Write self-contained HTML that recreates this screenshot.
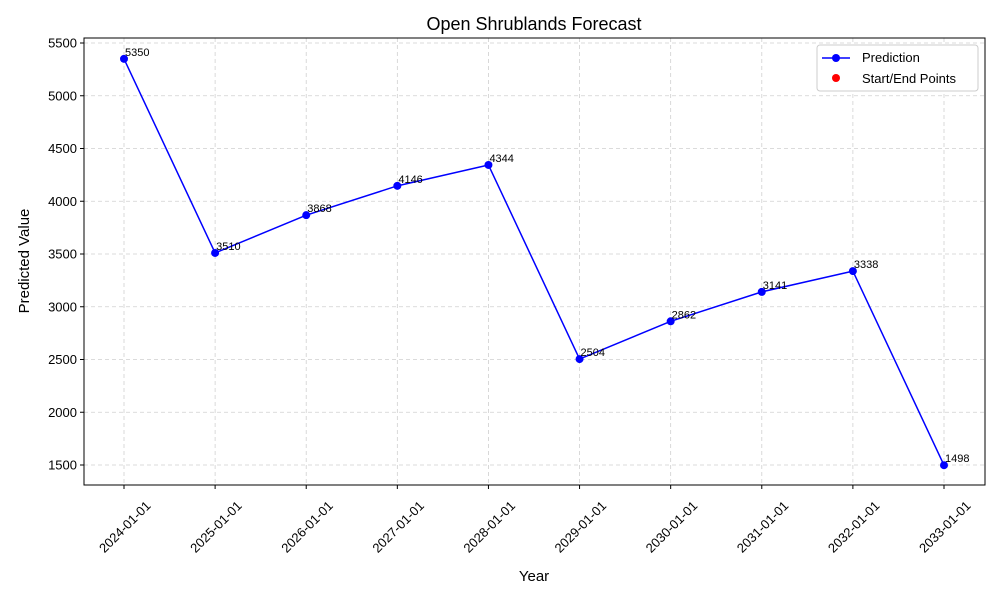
<!DOCTYPE html>
<html><head><meta charset="utf-8"><style>
body{margin:0;background:#fff;font-family:"Liberation Sans",sans-serif}
</style></head><body>
<svg id="chart" width="1000" height="600" xmlns="http://www.w3.org/2000/svg" font-family="Liberation Sans, sans-serif">
<rect width="1000" height="600" fill="#fff"/>
<text x="534" y="30" font-size="18" text-anchor="middle">Open Shrublands Forecast</text>
<g id="grid"></g>
<g id="axes"></g>
<g id="series"></g>
<rect x="84" y="38" width="901" height="447" fill="none" stroke="#000" stroke-width="1"/>
<text x="534" y="581" font-size="15" text-anchor="middle">Year</text>
<text transform="translate(29,261) rotate(-90)" font-size="15" text-anchor="middle">Predicted Value</text>
<g>
<rect x="817" y="45" width="161" height="46" rx="3" fill="#fff" stroke="#ccc"/>
<line x1="822" y1="58" x2="850" y2="58" stroke="#0000ff" stroke-width="1.5"/>
<circle cx="836" cy="58" r="4" fill="#0000ff"/>
<text x="862" y="62" font-size="13">Prediction</text>
<circle cx="836" cy="78" r="4" fill="#ff0000"/>
<text x="862" y="83" font-size="13">Start/End Points</text>
</g>
</svg>
<script>
const categories=["2024-01-01","2025-01-01","2026-01-01","2027-01-01","2028-01-01","2029-01-01","2030-01-01","2031-01-01","2032-01-01","2033-01-01"];
const values=[5350,3510,3868,4146,4344,2504,2862,3141,3338,1498];
const yTicks=[1500,2000,2500,3000,3500,4000,4500,5000,5500];
const NS="http://www.w3.org/2000/svg";
const X=i=>124+i*(944-124)/(categories.length-1);
const Y=v=>465-(v-1500)*(465-43)/4000;
function mk(tag,attrs,parent,txt){const e=document.createElementNS(NS,tag);for(const k in attrs)e.setAttribute(k,attrs[k]);if(txt!==undefined)e.textContent=txt;parent.appendChild(e);return e;}
const grid=document.getElementById('grid'),axes=document.getElementById('axes'),ser=document.getElementById('series');
yTicks.forEach(t=>{const y=Y(t);
 const g=mk('line',{x1:84,x2:985,y1:y,y2:y,stroke:'#d0d0d0','stroke-dasharray':'4,3','stroke-width':0.8},grid);
 
 
 mk('line',{x1:80,x2:84,y1:y,y2:y,stroke:'#000'},axes);
 const l=mk('text',{x:77,y:y+4.5,'font-size':13,'text-anchor':'end'},axes,t);
 
 
});
categories.forEach((c,i)=>{const x=X(i);
 const g=mk('line',{x1:x,x2:x,y1:38,y2:485,stroke:'#d0d0d0','stroke-dasharray':'4,3','stroke-width':0.8},grid);
 
 
 mk('line',{x1:x,x2:x,y1:485,y2:489,stroke:'#000'},axes);
 const l=mk('text',{transform:`translate(${x+4},${530}) rotate(-45)`,'font-size':13,'text-anchor':'middle'},axes,c);
 
 
});
const line=mk('polyline',{points:values.map((v,i)=>X(i)+','+Y(v)).join(' '),fill:'none',stroke:'#0000ff','stroke-width':1.5},ser);


values.forEach((v,i)=>{
 const p=mk('circle',{cx:X(i),cy:Y(v),r:4,fill:'#0000ff'},ser);
 
 
 const t=mk('text',{x:X(i)+1,y:Y(v)-3,'font-size':11},ser,v);
 
 
});
</script>
</body></html>
